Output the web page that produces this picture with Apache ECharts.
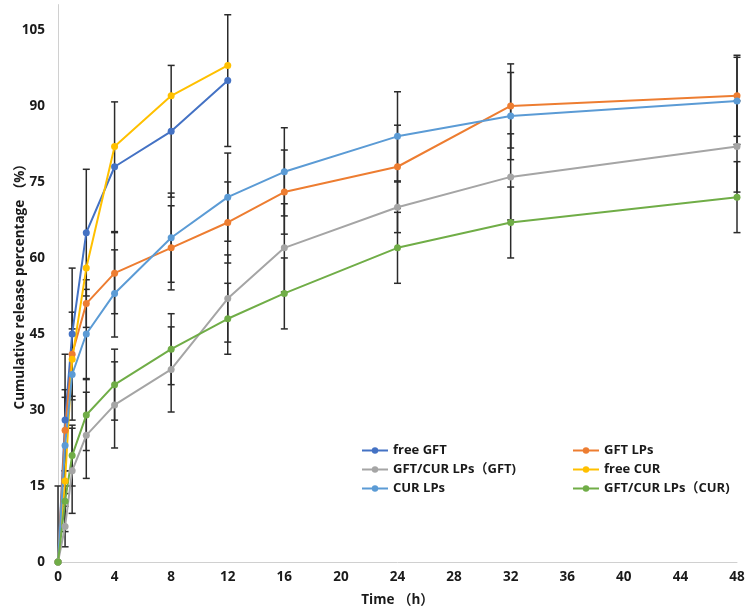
<!DOCTYPE html>
<html>
<head>
<meta charset="utf-8">
<script src="https://cdn.jsdelivr.net/npm/echarts@6/dist/echarts.min.js"></script>
<style>
html,body{margin:0;padding:0;background:#fff;}
#chart{width:749px;height:614px;}
</style>
</head>
<body>
<div id="chart"></div>
<script>
// Time points (h)
var timeAll = [0, 0.5, 1, 2, 4, 8, 12, 16, 24, 32, 48];
var timeShort = [0, 0.5, 1, 2, 4, 8, 12];
var xTicks = [0, 4, 8, 12, 16, 20, 24, 28, 32, 36, 40, 44, 48];
var yTicks = [0, 15, 30, 45, 60, 75, 90, 105];

var seriesNames = ['free GFT', 'GFT LPs', 'GFT/CUR LPs（GFT)', 'free CUR', 'CUR LPs', 'GFT/CUR LPs（CUR)'];

var freeGFT      = [0, 28, 45, 65, 78, 85, 95];
var freeGFTErr   = [15, 13, 13, 12.5, 12.8, 13, 13];
var gftLPs       = [0, 26, 41, 51, 57, 62, 67, 73, 78, 90, 92];
var gftLPsErr    = [0, 8, 8.3, 4.7, 8, 8.3, 8, 8.3, 8.2, 8.3, 8];
var combGFT      = [0, 7, 18, 25, 31, 38, 52, 62, 70, 76, 82];
var combGFTErr   = [0, 4, 8.4, 8.5, 8.5, 8.4, 8.6, 8.7, 5, 8.5, 9];
var freeCUR      = [0, 16, 40, 58, 82, 92, 98];
var freeCURErr   = [0, 0, 0, 0, 0, 0, 0];
var curLPs       = [0, 23, 37, 45, 53, 64, 72, 77, 84, 88, 91];
var curLPsErr    = [0, 9.5, 9, 8.8, 8.6, 8.8, 8.7, 8.7, 8.8, 8.6, 8.6];
var combCUR      = [0, 12, 21, 29, 35, 42, 48, 53, 62, 67, 72];
var combCURErr   = [0, 6, 6, 7, 7, 7, 7, 7, 7, 7, 7];

var colors = ['#4472C4', '#ED7D31', '#A5A5A5', '#FFC000', '#5B9BD5', '#70AD47'];

var groups = [
  {t: timeShort, v: freeGFT, e: freeGFTErr},
  {t: timeAll, v: gftLPs, e: gftLPsErr},
  {t: timeAll, v: combGFT, e: combGFTErr},
  {t: timeShort, v: freeCUR, e: freeCURErr},
  {t: timeAll, v: curLPs, e: curLPsErr},
  {t: timeAll, v: combCUR, e: combCURErr}
];

var FONT = '"Open Sans", "Noto Sans CJK SC", sans-serif';

function errRender(params, api) {
  var x = api.value(0), y = api.value(1), e = api.value(2);
  if (!e) return null;
  var lo = Math.max(0, y - e), hi = y + e;
  var pHi = api.coord([x, hi]);
  var pLo = api.coord([x, lo]);
  var w = 3.5;
  var style = {stroke: '#2b2b2b', lineWidth: 1.5};
  var children = [
    {type: 'line', shape: {x1: pHi[0], y1: pHi[1], x2: pLo[0], y2: pLo[1]}, style: style},
    {type: 'line', shape: {x1: pHi[0] - w, y1: pHi[1], x2: pHi[0] + w, y2: pHi[1]}, style: style}
  ];
  if (y - e > 0) {
    children.push({type: 'line', shape: {x1: pLo[0] - w, y1: pLo[1], x2: pLo[0] + w, y2: pLo[1]}, style: style});
  }
  return {type: 'group', children: children};
}

var series = [];
groups.forEach(function (g, i) {
  series.push({
    name: seriesNames[i],
    type: 'line',
    data: g.t.map(function (t, k) { return [t, g.v[k]]; }),
    symbol: 'circle',
    symbolSize: 7,
    lineStyle: {width: 2, color: colors[i]},
    itemStyle: {color: colors[i]},
    z: 3,
    animation: false
  });
});
groups.forEach(function (g, i) {
  series.push({
    name: seriesNames[i] + ' err',
    type: 'custom',
    renderItem: errRender,
    data: g.t.map(function (t, k) { return [t, g.v[k], g.e[k]]; }),
    encode: {x: 0, y: 1},
    z: 2,
    silent: true,
    animation: false
  });
});

var legendText = {fontFamily: FONT, fontWeight: 'bold', fontSize: 13, color: '#1a1a1a'};

var chart = echarts.init(document.getElementById('chart'), null, {renderer: 'canvas'});
chart.setOption({
  backgroundColor: '#ffffff',
  color: colors,
  animation: false,
  grid: {left: 58, right: 12, top: 4.6, bottom: 52, containLabel: false, outerBoundsMode: 'none'},
  legend: [
    {
      data: [seriesNames[0], seriesNames[2], seriesNames[4]],
      orient: 'vertical', left: 356, top: 439, itemGap: 6,
      itemWidth: 26, itemHeight: 8, textStyle: legendText, selectedMode: false
    },
    {
      data: [seriesNames[1], seriesNames[3], seriesNames[5]],
      orient: 'vertical', left: 567, top: 439, itemGap: 6,
      itemWidth: 26, itemHeight: 8, textStyle: legendText, selectedMode: false
    }
  ],
  xAxis: {
    type: 'value', min: xTicks[0], max: xTicks[xTicks.length - 1], interval: 4,
    name: 'Time （h）', nameLocation: 'middle', nameGap: 31, nameMoveOverlap: false,
    nameTextStyle: {fontFamily: FONT, fontWeight: 'bold', fontSize: 13.5, color: '#1a1a1a'},
    axisLine: {show: true, lineStyle: {color: '#d0d0d0', width: 1}},
    axisTick: {show: false},
    splitLine: {show: false},
    axisLabel: {fontFamily: FONT, fontWeight: 'bold', fontSize: 13.5, color: '#1a1a1a', margin: 8}
  },
  yAxis: {
    type: 'value', min: yTicks[0], max: 110, interval: 15,
    name: 'Cumulative release percentage （%）', nameLocation: 'middle', nameGap: 31, nameMoveOverlap: false,
    nameTextStyle: {fontFamily: FONT, fontWeight: 'bold', fontSize: 13.5, color: '#1a1a1a'},
    axisLine: {show: true, lineStyle: {color: '#d0d0d0', width: 1}},
    axisTick: {show: false},
    splitLine: {show: false},
    axisLabel: {fontFamily: FONT, fontWeight: 'bold', fontSize: 13.5, color: '#1a1a1a', margin: 13, showMaxLabel: false,
      formatter: function (v) { return yTicks.indexOf(v) >= 0 ? String(v) : ''; }}
  },
  series: series
});
</script>
</body>
</html>
